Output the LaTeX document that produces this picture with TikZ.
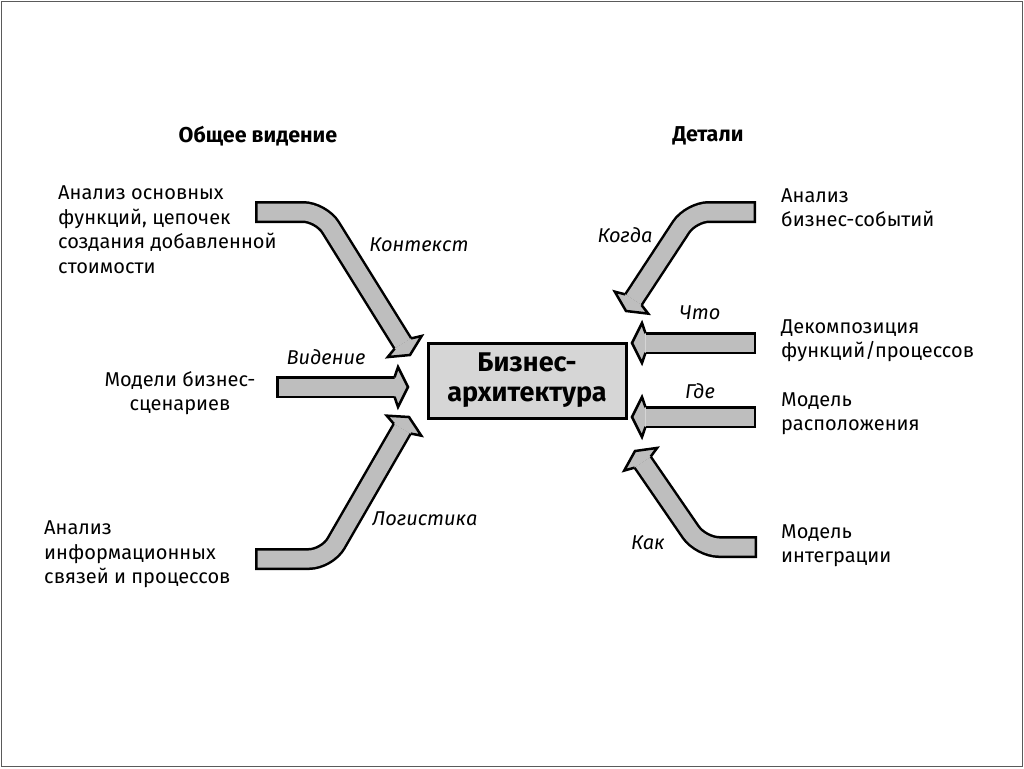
\documentclass[tikz,border=0pt]{standalone}
\usepackage{fontspec}
\setmainfont{Fira Sans}
\usetikzlibrary{calc}
\definecolor{arrgray}{RGB}{190,190,190}
\definecolor{boxgray}{RGB}{214,214,214}
\definecolor{framegray}{RGB}{90,90,90}
\tikzset{
  shaftout/.style={draw=black, line width=22pt, rounded corners=18pt},
  shaftin/.style={draw=arrgray, line width=17pt, rounded corners=18pt, shorten <=2.5pt},
  headstyle/.style={fill=arrgray, draw=black, line width=2.5pt, line join=miter},
  txt/.style={inner sep=0pt, align=left, anchor=west, font=\fontsize{20}{24.5}\selectfont},
  txtc/.style={inner sep=0pt, align=center, font=\fontsize{20}{24.5}\selectfont},
  head/.style={inner sep=0pt, font=\fontsize{21.5}{24}\selectfont\bfseries},
  lbl/.style={inner sep=0pt, font=\fontsize{20}{24}\selectfont\itshape},
  centerbox/.style={draw=black, line width=3pt, fill=boxgray, minimum width=198pt, minimum height=75pt,
    inner sep=0pt, align=center, font=\fontsize{27}{30}\selectfont\bfseries}
}
% #1 tail, #2 corner (or a point on the shaft), #3 tip
\newcommand\blockarrow[3]{%
  \coordinate (ba) at ($(#3)!13.5pt!(#2)$);
  \coordinate (w1) at ($(#3)!10pt!(#2)!20pt!90:(#2)$);
  \coordinate (w2) at ($(#3)!10pt!(#2)!20pt!-90:(#2)$);
  \coordinate (j1) at ($(ba)!9.75pt!90:(#2)$);
  \coordinate (j2) at ($(ba)!9.75pt!-90:(#2)$);
  \draw[shaftout] (#1) -- (#2) -- (ba);
  \draw[shaftin] (#1) -- (#2) -- (ba);
  \filldraw[headstyle] (j1) -- (w1) -- (#3) -- (w2) -- (j2);
}
\begin{document}
\begin{tikzpicture}[x=1pt,y=-1pt]
\useasboundingbox (0,0) rectangle (1024,768);
\draw[framegray, line width=1.5pt] (1.5,1.5) rectangle (1022.5,766.5);

% headings
\node[head] (h1) at (258,136) {Общее видение};
\node[head] (h2) at (708,136) {Детали};

% centre box
\node[centerbox] (bus) at (527,380.5) {Бизнес-\\архитектура};

% left texts
\node[txt] (l1) at (58,229.5) {Анализ основных\\функций, цепочек\\создания добавленной\\стоимости};
\node[txtc] (l2) at (180,393) {Модели бизнес-\\сценариев};
\node[txt] (l3) at (44,554.5) {Анализ\\информационных\\связей и процессов};

% right texts
\node[txt] (r1) at (781,207.5) {Анализ\\бизнес-событий};
\node[txt] (r2) at (781,340.5) {Декомпозиция\\функций/процессов};
\node[txt] (r3) at (781,413.5) {Модель\\расположения};
\node[txt] (r4) at (781,545.5) {Модель\\интеграции};

% arrow coordinates
\coordinate (a1t) at (255,212); \coordinate (a1c) at (321,212); \coordinate (a1h) at (410,355);
\coordinate (a2t) at (276,387); \coordinate (a2c) at (340,387); \coordinate (a2h) at (408,387);
\coordinate (a3t) at (255,559); \coordinate (a3c) at (327,559); \coordinate (a3h) at (409,417);
\coordinate (a4t) at (756,212); \coordinate (a4c) at (691,212); \coordinate (a4h) at (626,311);
\coordinate (a5t) at (756,343); \coordinate (a5c) at (700,343); \coordinate (a5h) at (632,343);
\coordinate (a6t) at (756,417); \coordinate (a6c) at (700,417); \coordinate (a6h) at (632,417);
\coordinate (a7t) at (757,547); \coordinate (a7c) at (701,547); \coordinate (a7h) at (635,451);

\blockarrow{a1t}{a1c}{a1h}
\blockarrow{a2t}{a2c}{a2h}
\blockarrow{a3t}{a3c}{a3h}
\blockarrow{a4t}{a4c}{a4h}
\blockarrow{a5t}{a5c}{a5h}
\blockarrow{a6t}{a6c}{a6h}
\blockarrow{a7t}{a7c}{a7h}

% labels
\node[lbl] (k1) at (419,245) {Контекст};
\node[lbl] (k2) at (326,357) {Видение};
\node[lbl] (k3) at (425,519) {Логистика};
\node[lbl] (k4) at (625,235) {Когда};
\node[lbl] (k5) at (700,313) {Что};
\node[lbl] (k6) at (700,391) {Где};
\node[lbl] (k7) at (648,543) {Как};
\end{tikzpicture}
\end{document}
